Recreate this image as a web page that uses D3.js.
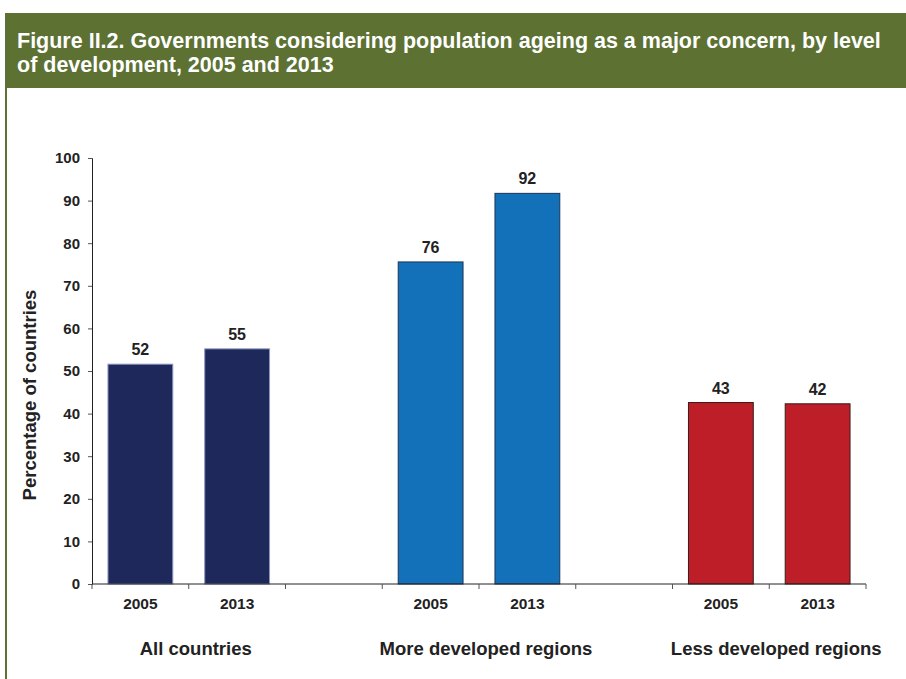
<!DOCTYPE html>
<html>
<head>
<meta charset="utf-8">
<script src="https://cdn.jsdelivr.net/npm/d3@7"></script>
<style>
  body { margin: 0; background: #fff; }
  svg { display: block; font-family: "Liberation Sans", Arial, sans-serif; }
</style>
</head>
<body>
<div id="chart"></div>
<script>
// chart data
const groups = ["All countries", "More developed regions", "Less developed regions"];
const years = ["2005", "2013"];
const values2005 = [51.6, 75.6, 42.6];
const values2013 = [55.2, 91.7, 42.3];
const groupColors = ["#1f285a", "#1271b9", "#be1e27"];
const groupStrokes = ["#8c97c0", "#1d3554", "#3a1a1a"];
const yTicks = [0, 10, 20, 30, 40, 50, 60, 70, 80, 90, 100];

const width = 906, height = 679;
const margin = { top: 158, right: 40, bottom: 95, left: 92 };
const innerW = width - margin.left - margin.right;
const innerH = height - margin.top - margin.bottom;

const svg = d3.select("#chart").append("svg")
    .attr("width", width)
    .attr("height", height);

// header band
svg.append("rect")
    .attr("x", 5).attr("y", 13)
    .attr("width", width - 5).attr("height", 75)
    .attr("fill", "#5c7132");
svg.append("line")
    .attr("x1", 6).attr("x2", 6)
    .attr("y1", 88).attr("y2", height)
    .attr("stroke", "#5c7132").attr("stroke-width", 2);

const title = svg.append("text")
    .attr("fill", "#fff")
    .attr("font-weight", "bold")
    .attr("font-size", 21.5);
title.append("tspan").attr("x", 17).attr("y", 48)
    .text("Figure II.2. Governments considering population ageing as a major concern, by level");
title.append("tspan").attr("x", 17).attr("y", 72)
    .text("of development, 2005 and 2013");

// flatten into slots: each group gets two bars plus a blank slot between groups
const slots = [];
const bars = [];
groups.forEach((g, i) => {
    years.forEach((yr, j) => {
        const key = g + "|" + yr;
        slots.push(key);
        bars.push({ key: key, group: i, year: yr, value: j === 0 ? values2005[i] : values2013[i] });
    });
    if (i < groups.length - 1) slots.push("gap" + i);
});

const x = d3.scaleBand().domain(slots).range([0, innerW]).paddingInner(0.33).paddingOuter(0.165);
const slotX = d3.scaleBand().domain(slots).range([0, innerW]);
const y = d3.scaleLinear().domain([0, 100]).range([innerH, 0]);

const g = svg.append("g").attr("transform", `translate(${margin.left},${margin.top})`);

// y axis
const yAxis = g.append("g")
    .call(d3.axisLeft(y).tickValues(yTicks).tickSize(4).tickPadding(8));
yAxis.select(".domain").attr("stroke", "#222");
yAxis.selectAll(".tick line").attr("stroke", "#555");
yAxis.selectAll("text")
    .attr("font-size", 15).attr("font-weight", "bold").attr("fill", "#222")
    .attr("font-family", "Liberation Sans, Arial, sans-serif");

// bars
g.selectAll("rect.bar")
    .data(bars)
    .enter()
    .append("rect")
    .attr("class", "bar")
    .attr("x", d => x(d.key))
    .attr("y", d => y(d.value))
    .attr("width", x.bandwidth())
    .attr("height", d => innerH - y(d.value))
    .attr("fill", d => groupColors[d.group])
    .attr("stroke", d => groupStrokes[d.group])
    .attr("stroke-width", 1);

// value labels
g.selectAll("text.val")
    .data(bars)
    .enter()
    .append("text")
    .attr("class", "val")
    .attr("x", d => x(d.key) + x.bandwidth() / 2)
    .attr("y", d => y(d.value) - 9)
    .attr("text-anchor", "middle")
    .attr("font-size", 16).attr("font-weight", "bold").attr("fill", "#222")
    .text(d => d3.format(".0f")(d.value));

// x axis line with slot boundary ticks
const xAxisG = g.append("g").attr("transform", `translate(0,${innerH})`);
xAxisG.append("line")
    .attr("x1", 0).attr("x2", innerW)
    .attr("stroke", "#222");
const boundaries = slots.map(s => slotX(s)).concat([innerW]);
xAxisG.selectAll("line.tick")
    .data(boundaries)
    .enter()
    .append("line")
    .attr("class", "tick")
    .attr("x1", d => d).attr("x2", d => d)
    .attr("y1", 0).attr("y2", 5)
    .attr("stroke", "#555");

// year labels
xAxisG.selectAll("text.year")
    .data(bars)
    .enter()
    .append("text")
    .attr("class", "year")
    .attr("x", d => slotX(d.key) + slotX.bandwidth() / 2)
    .attr("y", 25)
    .attr("text-anchor", "middle")
    .attr("font-size", 15.5).attr("font-weight", "bold").attr("fill", "#222")
    .text(d => d.year);

// group labels
xAxisG.selectAll("text.group")
    .data(groups)
    .enter()
    .append("text")
    .attr("class", "group")
    .attr("x", d => slotX(d + "|" + years[1]) + 7)
    .attr("y", 71)
    .attr("text-anchor", "middle")
    .attr("font-size", 18.5).attr("font-weight", "bold").attr("fill", "#222")
    .text(d => d);

// y axis title
svg.append("text")
    .attr("transform", "translate(36,395) rotate(-90)")
    .attr("text-anchor", "middle")
    .attr("font-size", 18.5).attr("font-weight", "bold").attr("fill", "#222")
    .text("Percentage of countries");
</script>
</body>
</html>
